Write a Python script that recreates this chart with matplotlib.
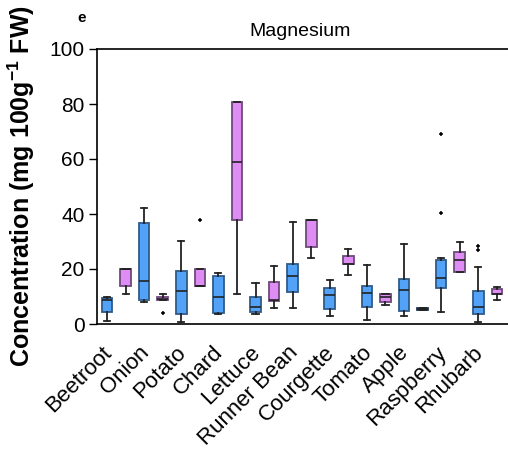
import matplotlib
matplotlib.use("Agg")
import matplotlib.pyplot as plt

plt.rcParams["font.family"] = ["Liberation Sans", "DejaVu Sans"]
plt.rcParams["mathtext.default"] = "regular"

categories = ["Beetroot", "Onion", "Potato", "Chard", "Lettuce", "Runner Bean",
              "Courgette", "Tomato", "Apple", "Raspberry", "Rhubarb"]

# first box of each pair (blue)
blue_lo = [1.0, 8.0, 0.6, 3.5, 3.5, 5.7, 2.8, 1.5, 2.8, 4.2, 0.6]
blue_q1 = [4.2, 8.6, 3.5, 3.9, 4.4, 11.5, 5.3, 6.1, 4.8, 13.0, 3.5]
blue_med = [8.6, 15.5, 11.9, 9.7, 6.1, 17.3, 10.4, 11.3, 12.3, 16.6, 6.1]
blue_q3 = [9.3, 36.6, 19.4, 17.3, 9.7, 21.9, 13.0, 13.9, 16.3, 23.2, 11.9]
blue_hi = [9.9, 42.1, 30.1, 18.4, 14.8, 37.2, 15.9, 21.3, 29.0, 23.9, 20.6]
blue_out = [[], [], [], [], [], [], [], [], [], [40.2, 69.0], [26.8, 28.2]]

# second box of each pair (pink)
pink_lo = [10.8, 8.8, 13.7, 10.8, 5.7, 23.9, 17.7, 6.8, 5.0, 18.8, 8.6]
pink_q1 = [13.8, 8.8, 13.7, 37.8, 8.2, 27.9, 21.7, 7.9, 5.0, 18.8, 10.8]
pink_med = [20.0, 9.2, 13.7, 58.8, 8.6, 37.7, 21.8, 9.7, 5.4, 23.2, 10.8]
pink_q3 = [20.0, 9.7, 19.9, 80.7, 15.4, 37.7, 24.7, 10.8, 5.7, 26.1, 12.6]
pink_hi = [20.0, 10.8, 19.9, 80.7, 21.0, 37.7, 27.2, 10.8, 5.7, 29.7, 13.6]
pink_out = [[], [3.9], [37.8], [], [], [], [], [], [], [], []]
# the second Apple box is blue in the original
pink_is_blue = [False] * 8 + [True] + [False] * 2

blue = "#52a2f7"
blue_edge = "#2f5b8a"
pink = "#df8cf5"
pink_edge = "#6e4a7c"

fig = plt.figure(figsize=(5.08, 4.59), dpi=100)
ax = fig.add_axes([97 / 508, 135 / 459, 1 - 97 / 508, 275 / 459])

def stats(lo, q1, med, q3, hi, out):
    return [{"whislo": a, "q1": b, "med": c, "q3": d, "whishi": e, "fliers": f}
            for a, b, c, d, e, f in zip(lo, q1, med, q3, hi, out)]

def draw(st, pos, fills, edges):
    bp = ax.bxp(st, positions=pos, widths=0.57, capwidths=0.33, patch_artist=True,
                showfliers=True,
                medianprops=dict(color="#222222", linewidth=1.2),
                whiskerprops=dict(color="#222222", linewidth=1.3),
                capprops=dict(color="#222222", linewidth=1.3),
                flierprops=dict(marker="+", markersize=3.5, markeredgecolor="black",
                                markeredgewidth=1.1))
    for patch, fc, ec in zip(bp["boxes"], fills, edges):
        patch.set_facecolor(fc)
        patch.set_edgecolor(ec)
        patch.set_linewidth(1.3)

n = len(categories)
pos_blue = [2 * i for i in range(n)]
pos_pink = [2 * i + 1 for i in range(n)]

draw(stats(blue_lo, blue_q1, blue_med, blue_q3, blue_hi, blue_out),
     pos_blue, [blue] * n, [blue_edge] * n)
draw(stats(pink_lo, pink_q1, pink_med, pink_q3, pink_hi, pink_out),
     pos_pink,
     [blue if b else pink for b in pink_is_blue],
     ["#203a5c" if b else pink_edge for b in pink_is_blue])

ax.set_xlim(-0.54, 21.6)
ax.set_ylim(0, 100)
ax.set_yticks([0, 20, 40, 60, 80, 100])
ax.set_xticks([2 * i + 0.5 for i in range(n)])
ax.set_xticklabels(categories, rotation=45, ha="right", fontsize=16)
ax.tick_params(axis="x", length=0, pad=13)
ax.tick_params(axis="y", labelsize=15, length=6, width=1, pad=3)

ax.spines["right"].set_visible(False)
for s in ["left", "bottom", "top"]:
    ax.spines[s].set_linewidth(1.2)

ax.set_ylabel("Concentration (mg 100g$^{-1}$ FW)", fontsize=18, fontweight="bold")
ax.yaxis.set_label_coords(-0.145, 0.5)

fig.text(300 / 508, 1 - 31 / 459, "Magnesium", fontsize=14, ha="center", va="center")
fig.text(82 / 508, 1 - 18 / 459, "e", fontsize=11, fontweight="bold",
         ha="center", va="center")

fig.savefig("out.png", dpi=100)
